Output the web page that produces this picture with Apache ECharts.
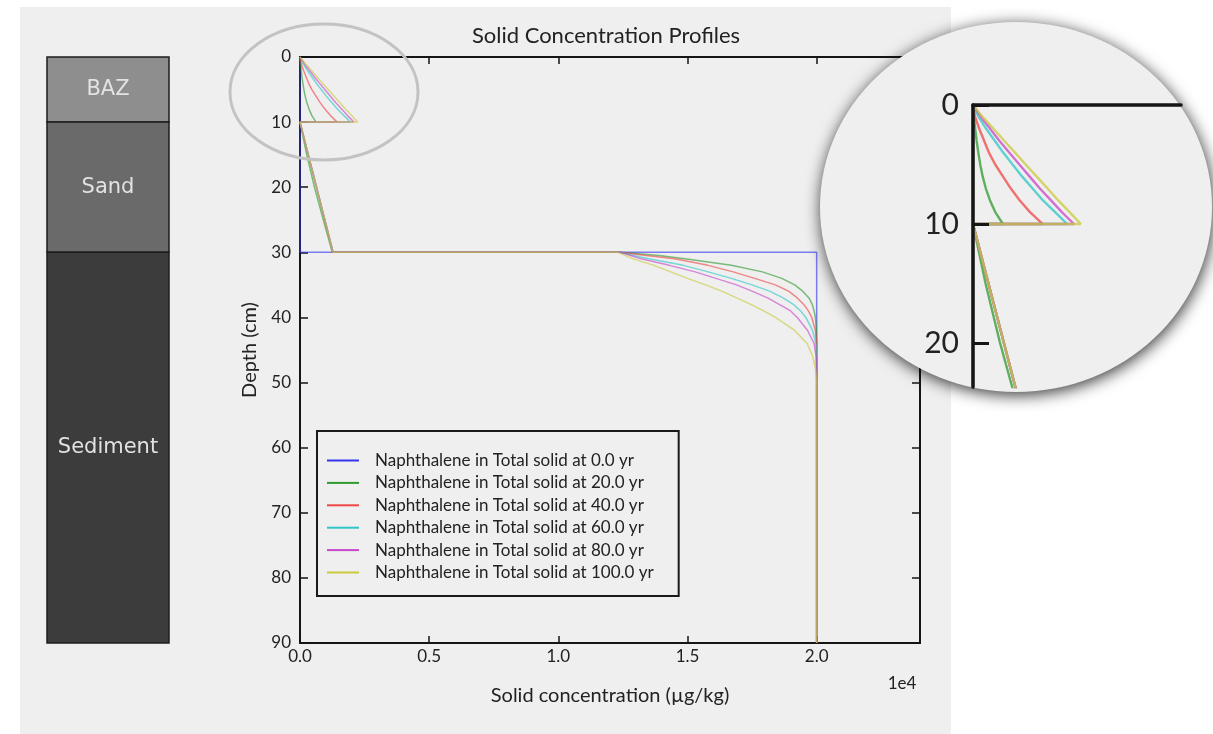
<!DOCTYPE html>
<html><head><meta charset="utf-8">
<script src="https://cdn.jsdelivr.net/npm/echarts@6/dist/echarts.min.js"></script>
<style>html,body{margin:0;padding:0;background:#fff;}#c{width:1213px;height:734px;}</style>
</head><body><div id="c"></div>
<script>
// ---------- data ----------
const depths = [0,1,2,3,4,5,6,7,8,9,10, 10,15,20,25,30, 30,30.5,31,32,33,34,35,36,37,38,39,40,42,44,46,48,50,60,70,80,90];
const seriesNames = [
  'Naphthalene in Total solid at 0.0 yr',
  'Naphthalene in Total solid at 20.0 yr',
  'Naphthalene in Total solid at 40.0 yr',
  'Naphthalene in Total solid at 60.0 yr',
  'Naphthalene in Total solid at 80.0 yr',
  'Naphthalene in Total solid at 100.0 yr'
];
const conc0yr   = [0,0,0,0,0,0,0,0,0,0,0, 0,0,0,0,0, 20000,20000,20000,20000,20000,20000,20000,20000,20000,20000,20000,20000,20000,20000,20000,20000,20000,20000,20000,20000,20000];
const conc20yr  = [0,20,45,75,110,150,200,265,350,460,620, 0,260,560,900,1250, 12400,13900,14900,16700,17900,18650,19150,19470,19700,19830,19900,19950,19990,20000,20000,20000,20000,20000,20000,20000,20000];
const conc40yr  = [0,43,130,230,330,460,620,780,965,1180,1440, 0,320,640,960,1280, 12400,13400,14500,15800,16770,17600,18400,18930,19250,19500,19680,19810,19950,20000,20000,20000,20000,20000,20000,20000,20000];
const conc60yr  = [0,117,273,450,625,820,1015,1230,1445,1700,1950, 0,320,640,960,1280, 12400,12900,13500,14840,15800,16700,17500,18200,18700,19100,19380,19580,19840,19970,20000,20000,20000,20000,20000,20000,20000];
const conc80yr  = [0,167,355,545,750,960,1170,1380,1610,1840,2090, 0,320,640,960,1280, 12400,12800,13200,14300,15300,16100,16900,17520,18100,18550,18990,19250,19650,19900,19980,20000,20000,20000,20000,20000,20000];
const conc100yr = [0,200,425,645,870,1090,1315,1540,1760,2000,2230, 0,320,640,960,1280, 12300,12600,12900,13700,14350,15000,15700,16350,16900,17450,17950,18400,19150,19630,19850,19960,20000,20000,20000,20000,20000];
const xTickValues = [0,5000,10000,15000,20000];
const xTickLabels = ['0.0','0.5','1.0','1.5','2.0'];
const yTickValues = [0,10,20,30,40,50,60,70,80,90];
const zoomTickValues = [0,10,20];
const layerNames = ['BAZ','Sand','Sediment'];
const layerTop = [0,10,30];
const layerBottom = [10,30,90];

// ---------- style ----------
const FONT = 'Lato, "Open Sans", sans-serif';
const seriesColors = ['#3434f0','#2f9a2f','#f04646','#2ec6c6','#c846c8','#c9c93c'];
const layerFills = ['#8e8e8e','#6a6a6a','#3c3c3c'];
const AX = '#151515';
const LINE_OPACITY = 0.62;

const concs = [conc0yr, conc20yr, conc40yr, conc60yr, conc80yr, conc100yr];
const toPairs = arr => depths.map((d, i) => [arr[i], d]);
const xFmt = v => { const i = xTickValues.indexOf(v); return i >= 0 ? xTickLabels[i] : ''; };

const mainSeries = concs.map((c, i) => ({
  type: 'line', name: seriesNames[i], xAxisIndex: 0, yAxisIndex: 0,
  data: toPairs(c), showSymbol: false, symbol: 'none',
  lineStyle: { color: seriesColors[i], width: 1.5, opacity: LINE_OPACITY },
  itemStyle: { color: seriesColors[i] }, z: 2
}));
const zoomSeries = concs.map((c, i) => ({
  type: 'line', name: seriesNames[i], xAxisIndex: 2, yAxisIndex: 2,
  data: toPairs(c), showSymbol: false, symbol: 'none', clip: true,
  lineStyle: { color: seriesColors[i], width: 2.4, opacity: 0.75 },
  itemStyle: { color: seriesColors[i] }, z: 14
}));
const layerSeries = {
  type: 'custom', xAxisIndex: 3, yAxisIndex: 3, z: 3,
  data: layerTop.map((t, i) => [0, t, layerBottom[i]]),
  encode: { x: 0, y: [1, 2] },
  renderItem: function (params, api) {
    const p0 = api.coord([0, api.value(1)]);
    const p1 = api.coord([1, api.value(2)]);
    const idx = params.dataIndex;
    return { type: 'group', children: [
      { type: 'rect', shape: { x: p0[0], y: p0[1], width: p1[0] - p0[0], height: p1[1] - p0[1] },
        style: { fill: layerFills[idx], stroke: '#1c1c1c', lineWidth: 1.5 } },
      { type: 'text', style: { text: layerNames[idx], x: (p0[0] + p1[0]) / 2, y: (p0[1] + p1[1]) / 2,
        textAlign: 'center', textVerticalAlign: 'middle', fill: '#e2e2e2', font: '21px "DejaVu Sans"' } }
    ]};
  }
};

const option = {
  animation: false,
  backgroundColor: '#ffffff',
  title: {
    text: 'Solid Concentration Profiles', left: 601, top: 20, textAlign: 'center',
    textStyle: { fontFamily: FONT, fontSize: 22, fontWeight: 'normal', color: '#222' }
  },
  legend: {
    data: seriesNames, orient: 'vertical', left: 317, top: 431,
    padding: [21, 25, 15, 10], itemGap: 5.4, itemWidth: 32, itemHeight: 2, icon: 'rect',
    borderColor: '#1a1a1a', borderWidth: 2, backgroundColor: 'transparent',
    textStyle: { fontFamily: FONT, fontSize: 17, color: '#222', lineHeight: 17, padding: [0, 0, 0, 11] },
    selectedMode: false
  },
  grid: [
    { left: 300, top: 57, width: 620, height: 586, containLabel: false },
    { left: 973, top: 105, width: 208, height: 282, containLabel: false },
    { left: 47, top: 57, width: 122, height: 586, containLabel: false }
  ],
  xAxis: [
    { gridIndex: 0, type: 'value', position: 'bottom', min: 0, max: 24000, interval: 5000,
      axisLine: { show: true, onZero: false, lineStyle: { color: AX, width: 2 } },
      axisTick: { show: true, inside: true, length: 7, customValues: xTickValues, lineStyle: { color: AX, width: 1.5 } },
      axisLabel: { show: true, customValues: xTickValues, formatter: xFmt, fontFamily: FONT, fontSize: 17, color: '#222', margin: 5 },
      splitLine: { show: false },
      name: 'Solid concentration (µg/kg)', nameLocation: 'middle', nameGap: 43,
      nameTextStyle: { fontFamily: FONT, fontSize: 20, color: '#222' } },
    { gridIndex: 0, type: 'value', position: 'top', min: 0, max: 24000, interval: 5000,
      axisLine: { show: true, onZero: false, lineStyle: { color: AX, width: 2 } },
      axisTick: { show: true, inside: true, length: 7, customValues: xTickValues, lineStyle: { color: AX, width: 1.5 } },
      axisLabel: { show: false }, splitLine: { show: false } },
    { gridIndex: 1, type: 'value', position: 'top', min: 0, max: 4306, z: 15,
      axisLine: { show: true, onZero: false, lineStyle: { color: AX, width: 3.5 } },
      axisTick: { show: false }, axisLabel: { show: false }, splitLine: { show: false } },
    { gridIndex: 2, type: 'value', min: 0, max: 1, show: false }
  ],
  yAxis: [
    { gridIndex: 0, type: 'value', position: 'left', inverse: true, min: 0, max: 90, interval: 10,
      axisLine: { show: true, onZero: false, lineStyle: { color: AX, width: 2 } },
      axisTick: { show: true, inside: true, length: 8, customValues: yTickValues, lineStyle: { color: AX, width: 1.5 } },
      axisLabel: { show: true, customValues: yTickValues, fontFamily: FONT, fontSize: 17, color: '#222', margin: 9 },
      splitLine: { show: false },
      name: 'Depth (cm)', nameLocation: 'middle', nameGap: 40, nameRotate: 90,
      nameTextStyle: { fontFamily: FONT, fontSize: 20, color: '#222' } },
    { gridIndex: 0, type: 'value', position: 'right', inverse: true, min: 0, max: 90, interval: 10,
      axisLine: { show: true, onZero: false, lineStyle: { color: AX, width: 2 } },
      axisTick: { show: true, inside: true, length: 8, customValues: yTickValues, lineStyle: { color: AX, width: 1.5 } },
      axisLabel: { show: false }, splitLine: { show: false } },
    { gridIndex: 1, type: 'value', position: 'left', inverse: true, min: 0, max: 23.7, z: 15,
      axisLine: { show: true, onZero: false, lineStyle: { color: AX, width: 3.5 } },
      axisTick: { show: true, inside: true, length: 16, customValues: zoomTickValues, lineStyle: { color: AX, width: 3 } },
      axisLabel: { show: true, customValues: zoomTickValues, fontFamily: FONT, fontSize: 30, color: '#222', margin: 14 },
      splitLine: { show: false } },
    { gridIndex: 2, type: 'value', inverse: true, min: 0, max: 90, show: false }
  ],
  graphic: [
    { type: 'rect', z: -10, silent: true, shape: { x: 20, y: 7, width: 931, height: 727 }, style: { fill: '#efefef' } },
    { type: 'ellipse', z: 5, silent: true, shape: { cx: 324, cy: 92, rx: 94, ry: 68 },
      style: { fill: 'transparent', stroke: '#c3c3c3', lineWidth: 3 } },
    { type: 'ellipse', z: 10, silent: true, shape: { cx: 1016, cy: 207, rx: 196, ry: 185 },
      style: { fill: '#efefef', shadowBlur: 16, shadowColor: 'rgba(0,0,0,0.8)', shadowOffsetX: 1, shadowOffsetY: 3 } },
    { type: 'text', z: 5, silent: true,
      style: { text: '1e4', x: 902, y: 684, textAlign: 'center', textVerticalAlign: 'middle', font: '17px Lato', fill: '#222' } }
  ],
  series: mainSeries.concat(zoomSeries, [layerSeries])
};

const chart = echarts.init(document.getElementById('c'));
chart.setOption(option);
</script>
</body></html>
